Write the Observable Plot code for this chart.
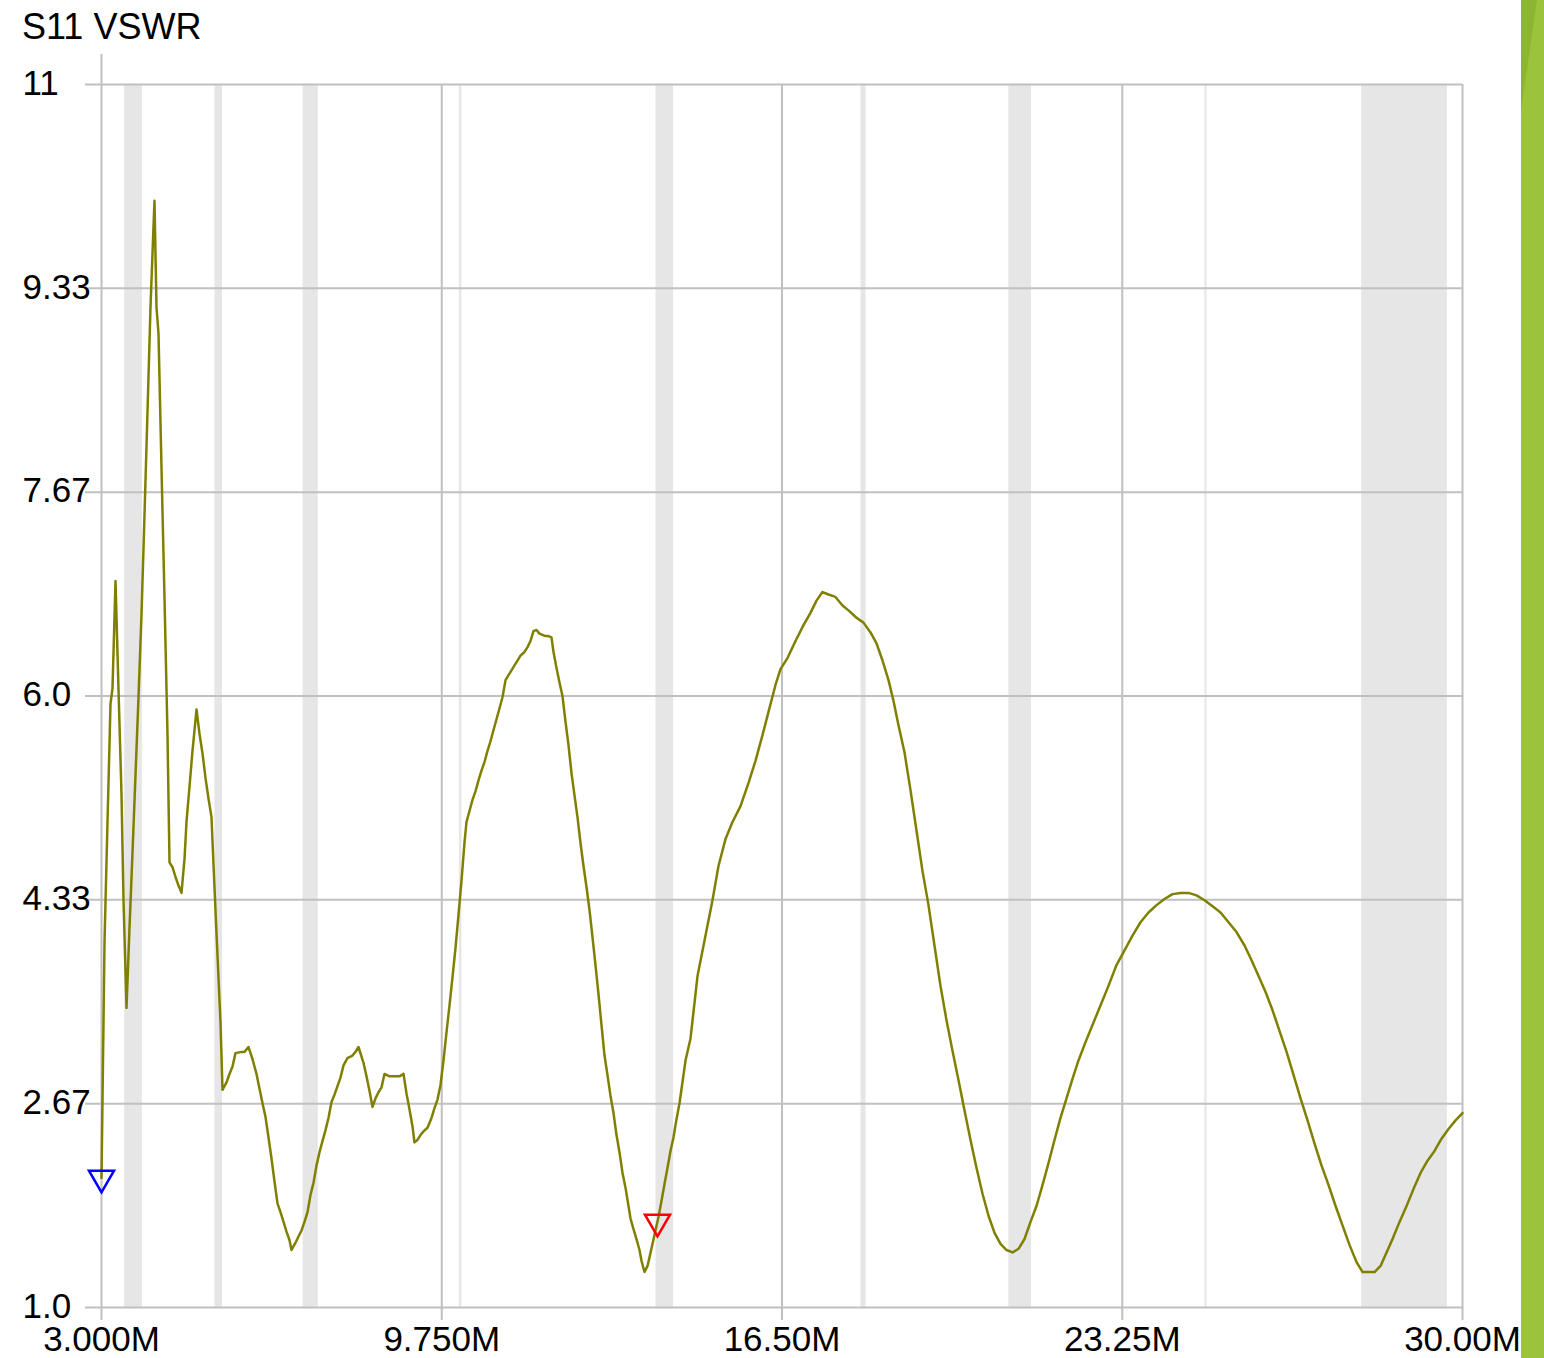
<!DOCTYPE html>
<html><head><meta charset="utf-8">
<script src="https://cdn.jsdelivr.net/npm/d3@7"></script>
<script src="https://cdn.jsdelivr.net/npm/@observablehq/plot@0.6"></script>
<style>
body{margin:0;background:#fff;}
#wrap{position:relative;width:1544px;height:1358px;overflow:hidden;font-family:"Liberation Sans",Arial,sans-serif;}
#title{position:absolute;left:22px;top:6px;font-size:36px;color:#000;white-space:nowrap;}
#bar{position:absolute;left:1521px;top:0;width:23px;height:1358px;background:#9cc33c;}
#bar2{position:absolute;left:1521px;top:0;width:23px;height:1358px;background:#8bb533;clip-path:polygon(0 0,16px 0,0 110px);}
#chart{position:absolute;left:0;top:0;}
</style></head>
<body><div id="wrap"><div id="chart"></div><div id="title">S11 VSWR</div><div id="bar"></div><div id="bar2"></div></div>
<script>
// Frequencies in MHz
const freq = [
3.000,3.060,3.119,3.179,3.218,3.278,3.337,3.397,3.436,3.496,3.555,3.615,3.675,3.734,3.794,3.853,3.913,3.972,4.051,4.091,
4.131,4.190,4.250,4.309,4.349,4.409,4.468,4.528,4.587,4.647,4.686,4.746,4.805,4.885,4.944,5.004,5.063,5.123,5.182,5.242,
5.301,5.361,5.400,5.480,5.539,5.599,5.658,5.777,5.837,5.916,5.996,6.075,6.134,6.194,6.253,6.313,6.372,6.432,6.492,6.551,
6.611,6.670,6.730,6.769,6.849,6.908,6.968,7.027,7.087,7.146,7.206,7.265,7.325,7.384,7.444,7.503,7.563,7.622,7.682,7.741,
7.801,7.880,7.979,8.039,8.098,8.198,8.257,8.317,8.376,8.436,8.495,8.555,8.614,8.713,8.813,8.912,8.991,9.051,9.110,9.170,
9.209,9.269,9.328,9.388,9.467,9.547,9.606,9.666,9.725,9.785,9.844,9.904,9.963,10.023,10.082,10.142,10.201,10.241,10.300,10.360,
10.419,10.479,10.538,10.598,10.657,10.717,10.776,10.836,10.896,10.955,11.015,11.074,11.134,11.193,11.253,11.312,11.392,11.451,11.511,11.570,
11.630,11.689,11.749,11.808,11.868,11.927,11.967,12.026,12.086,12.145,12.205,12.264,12.324,12.383,12.443,12.502,12.562,12.621,12.681,12.740,
12.800,12.860,12.919,12.979,13.038,13.098,13.157,13.217,13.276,13.336,13.395,13.455,13.494,13.554,13.613,13.673,13.713,13.772,13.832,13.871,
13.931,13.990,14.050,14.109,14.169,14.228,14.288,14.347,14.407,14.467,
14.586,14.685,14.824,14.963,15.121,15.240,15.379,15.518,15.677,15.836,15.974,16.113,16.232,16.371,16.470,16.609,16.768,16.927,17.065,17.184,
17.303,17.422,17.561,17.700,17.819,17.978,18.117,18.256,18.375,18.494,18.613,18.712,18.811,18.930,19.049,19.168,19.287,19.406,19.525,19.644,
19.763,19.882,20.001,20.121,20.240,20.359,20.478,20.597,20.716,20.835,20.954,21.073,21.192,21.311,21.430,21.549,21.668,21.787,21.906,22.025,
22.144,22.263,22.382,22.521,22.660,22.818,22.977,23.136,23.295,23.453,23.612,23.771,23.930,24.088,24.247,24.406,24.565,24.723,24.882,25.041,
25.200,25.358,25.517,25.676,25.815,25.954,26.093,26.232,26.371,26.510,26.649,26.787,26.926,27.065,27.204,27.343,27.482,27.621,27.760,27.899,
28.018,28.137,28.256,28.374,28.493,28.612,28.751,28.890,29.029,29.168,29.306,29.445,29.584,29.723,29.862,30.000
];
// S11 VSWR
const vswr = [
2.06,3.99,4.97,5.94,6.06,6.94,6.06,5.19,4.34,3.45,4.10,4.72,5.36,5.99,6.67,7.48,8.33,9.18,10.05,9.18,
8.96,7.87,6.80,5.69,4.64,4.60,4.52,4.45,4.39,4.67,4.97,5.26,5.55,5.89,5.69,5.53,5.33,5.16,5.01,4.43,
3.88,3.33,2.78,2.84,2.91,2.97,3.08,3.09,3.09,3.13,3.03,2.91,2.79,2.67,2.56,2.39,2.22,2.03,1.85,1.78,
1.70,1.62,1.55,1.47,1.53,1.58,1.63,1.70,1.78,1.92,2.02,2.16,2.27,2.36,2.45,2.55,2.68,2.74,2.81,2.88,
2.98,3.04,3.06,3.09,3.13,3.00,2.89,2.77,2.64,2.71,2.76,2.80,2.91,2.89,2.89,2.89,2.91,2.75,2.62,2.48,
2.35,2.37,2.41,2.44,2.47,2.55,2.63,2.70,2.82,3.02,3.25,3.47,3.70,3.94,4.21,4.49,4.80,4.97,5.06,5.15,
5.22,5.31,5.39,5.46,5.55,5.63,5.72,5.81,5.90,5.99,6.13,6.17,6.21,6.25,6.29,6.33,6.36,6.40,6.45,6.53,
6.54,6.51,6.50,6.49,6.49,6.48,6.36,6.23,6.11,6.00,5.79,5.60,5.37,5.19,5.01,4.80,4.61,4.44,4.25,4.03,
3.80,3.56,3.31,3.06,2.90,2.73,2.59,2.41,2.27,2.10,1.98,1.83,1.73,1.64,1.56,1.47,1.38,1.29,1.34,1.41,
1.52,1.63,1.74,1.87,2.01,2.14,2.28,2.39,2.54,2.67,
3.02,3.20,3.71,4.00,4.33,4.61,4.83,4.97,5.10,5.29,5.47,5.68,5.87,6.09,6.22,6.31,6.45,6.58,6.68,6.78,
6.85,6.83,6.81,6.74,6.70,6.64,6.60,6.52,6.43,6.29,6.13,5.96,5.76,5.54,5.23,4.90,4.57,4.29,3.96,3.63,
3.35,3.10,2.86,2.61,2.37,2.14,1.93,1.75,1.61,1.52,1.47,1.45,1.48,1.56,1.70,1.83,2.00,2.18,2.37,2.55,
2.71,2.87,3.02,3.17,3.31,3.47,3.63,3.80,3.92,4.04,4.15,4.23,4.29,4.34,4.38,4.39,4.39,4.37,4.33,4.28,
4.23,4.15,4.07,3.96,3.84,3.71,3.58,3.43,3.26,3.09,2.90,2.71,2.53,2.34,2.16,2.00,1.83,1.67,1.51,1.37,
1.29,1.29,1.29,1.34,1.45,1.56,1.70,1.83,1.97,2.10,2.20,2.28,2.38,2.46,2.53,2.59
];
// Amateur band highlights (MHz)
const bandLo = [3.46, 5.25, 7.0, 10.1, 14.0, 18.068, 21.0, 24.89, 28.0];
const bandHi = [3.81, 5.40, 7.3, 10.15, 14.35, 18.168, 21.45, 24.93, 29.7];
// Axis ticks
const xTicks = [3, 9.75, 16.5, 23.25, 30];
const xLabels = ["3.000M", "9.750M", "16.50M", "23.25M", "30.00M"];
const yTicks = [1, 2.6667, 4.3333, 6, 7.6667, 9.3333, 11];
const yLabels = ["1.0", "2.67", "4.33", "6.0", "7.67", "9.33", "11"];
// Markers
const markerFreq = [3.0, 14.03];
const markerVswr = [2.06, 1.70];
const markerColor = ["#0000ff", "#ff0000"];

const data = freq.map((f, i) => ({f, v: vswr[i]}));
const bands = bandLo.map((lo, i) => ({lo, hi: bandHi[i]}));
const markers = markerFreq.map((f, i) => ({f, v: markerVswr[i]}));

const chart = Plot.plot({
  width: 1544, height: 1358,
  marginLeft: 101, marginRight: 82, marginTop: 84, marginBottom: 51,
  x: {type: "linear", domain: [3, 30], axis: null},
  y: {type: "linear", domain: [1, 11], axis: null},
  style: {fontFamily: "'Liberation Sans', Arial, sans-serif", fontSize: "35px", background: "#fff", color: "#000", overflow: "visible"},
  marks: [
    Plot.rect(bands, {x1: "lo", x2: "hi", fill: "#e6e6e6"}),
    Plot.ruleY(yTicks, {stroke: "#c0c0c0", strokeWidth: 2, insetLeft: -16}),
    Plot.ruleX(xTicks.slice(0, 1), {stroke: "#c0c0c0", strokeWidth: 2, insetTop: -30, insetBottom: -13}),
    Plot.ruleX(xTicks.slice(1), {stroke: "#c0c0c0", strokeWidth: 2, insetBottom: -13}),
    Plot.text(xTicks, {x: d => d, text: (d, i) => xLabels[i], frameAnchor: "bottom", lineAnchor: "top", dy: 19, fill: "#000"}),
    Plot.text(yTicks, {y: d => d, text: (d, i) => yLabels[i], frameAnchor: "left", textAnchor: "start", dx: -79, dy: -1, fill: "#000"}),
    Plot.line(data, {x: "f", y: "v", stroke: "#808000", strokeWidth: 2.5}),
    Plot.dot(markers.slice(0, 1), {x: "f", y: "v", symbol: "triangle", rotate: 180, r: 9.3, stroke: markerColor[0], fill: "none", strokeWidth: 2.5}),
    Plot.dot(markers.slice(1), {x: "f", y: "v", symbol: "triangle", rotate: 180, r: 9.3, stroke: markerColor[1], fill: "none", strokeWidth: 2.5})
  ]
});
document.getElementById("chart").appendChild(chart);
</script>
</body></html>
